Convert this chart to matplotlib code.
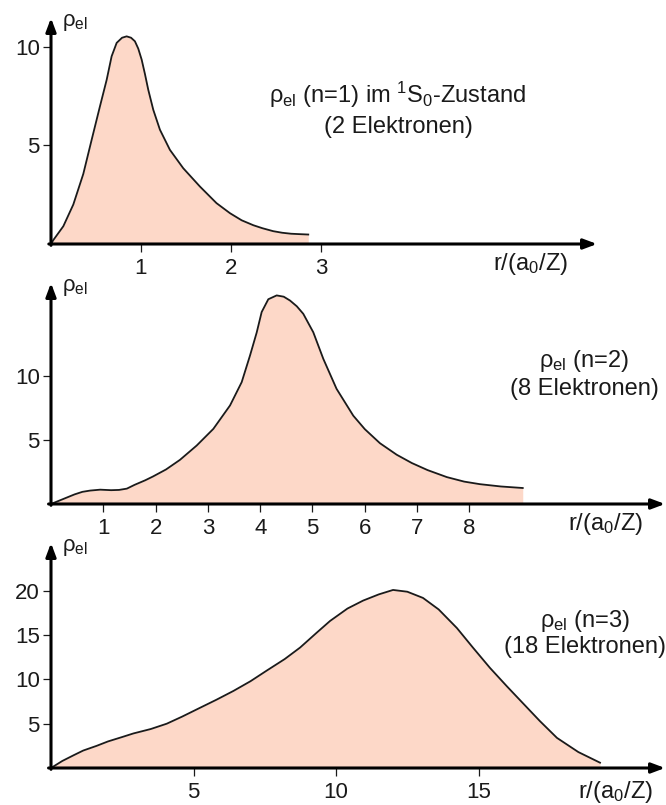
import matplotlib
matplotlib.use("Agg")
import matplotlib.pyplot as plt

plt.rcParams['font.family'] = ['Liberation Sans', 'DejaVu Sans']
plt.rcParams['mathtext.fontset'] = 'custom'
plt.rcParams['mathtext.rm'] = 'Liberation Sans'
plt.rcParams['mathtext.it'] = 'Liberation Sans:italic'

# Daten
r1 = [0, 0.026, 0.137, 0.248, 0.359, 0.452, 0.544, 0.619, 0.674, 0.73, 0.79, 0.841,
      0.89, 0.933, 0.97, 1.008, 1.045, 1.081, 1.137, 1.211, 1.322, 1.47, 1.656, 1.84,
      1.99, 2.12, 2.25, 2.35, 2.47, 2.57, 2.67, 2.76, 2.86]
rho1 = [0, 0.2, 0.9, 2.0, 3.55, 5.28, 6.97, 8.32, 9.51, 10.19, 10.45, 10.52,
        10.45, 10.27, 9.9, 9.34, 8.6, 7.82, 6.8, 5.79, 4.77, 3.84, 2.91, 2.07,
        1.56, 1.2, 0.95, 0.8, 0.65, 0.57, 0.52, 0.5, 0.48]

r2 = [0, 0.15, 0.3, 0.45, 0.6, 0.75, 0.94, 1.15, 1.3, 1.45, 1.6, 1.8, 1.95, 2.2,
      2.466, 2.786, 3.104, 3.423, 3.646, 3.805, 3.933, 4.028, 4.155, 4.315, 4.45,
      4.57, 4.7, 4.824, 5.015, 5.207, 5.46, 5.78, 6.0, 6.29, 6.61, 6.9, 7.2, 7.57,
      7.9, 8.2, 8.6, 9.02]
rho2 = [0, 0.25, 0.5, 0.75, 0.95, 1.05, 1.12, 1.08, 1.1, 1.2, 1.5, 1.85, 2.15, 2.7,
        3.45, 4.57, 5.87, 7.7, 9.52, 11.6, 13.4, 15.0, 16.0, 16.3, 16.2,
        15.9, 15.45, 14.86, 13.42, 11.34, 9.0, 6.9, 5.85, 4.75, 3.85, 3.2, 2.65, 2.1,
        1.75, 1.55, 1.37, 1.25]

r3 = [0, 0.4, 0.8, 1.13, 1.6, 2.0, 2.5, 2.89, 3.5, 4.06, 4.6, 5.23, 5.8, 6.4, 7.0,
      7.57, 8.2, 8.74, 9.33, 9.79, 10.4, 10.95, 11.5, 12.0, 12.5, 13.05, 13.6, 14.24,
      14.8, 15.4, 16.0, 16.56, 17.15, 17.75, 18.5, 19.26]
rho3 = [0, 0.8, 1.45, 1.97, 2.5, 3.0, 3.5, 3.9, 4.4, 5.0, 5.8, 6.8, 7.7, 8.7, 9.8,
        11.0, 12.3, 13.6, 15.3, 16.6, 18.0, 18.9, 19.6, 20.1, 19.9, 19.2, 17.9, 15.8,
        13.6, 11.3, 9.2, 7.3, 5.3, 3.4, 1.8, 0.6]

xticks = [[1, 2, 3], [1, 2, 3, 4, 5, 6, 7, 8], [5, 10, 15]]
yticks = [[5, 10], [5, 10], [5, 10, 15, 20]]
titles = [(r'ρ$_{\mathrm{el}}$ (n=1) im $^{1}$S$_{0}$-Zustand', '(2 Elektronen)'),
          (r'ρ$_{\mathrm{el}}$ (n=2)', '(8 Elektronen)'),
          (r'ρ$_{\mathrm{el}}$ (n=3)', '(18 Elektronen)')]

W, H = 666, 805
fig = plt.figure(figsize=(W / 100, H / 100), dpi=100)

def px(x, y):
    return x / W, 1 - y / H

# Achsen in Pixeln: links, rechts, unten, oben
boxes = [(51, 597, 244, 18), (51, 665, 504, 283), (51, 665, 768, 543)]
lims = [(6.07, 11.45), (11.74, 17.27), (21.54, 25.4)]
curves = [(r1, rho1), (r2, rho2), (r3, rho3)]
text_pos = [(398, 103, 133), (584, 367, 395), (585, 627, 653)]
xlab_pos = [(531, 270), (606, 530), (616, 798)]
fill = '#fdd8c8'

for i in range(3):
    l, r, b, t = boxes[i]
    ax = fig.add_axes([l / W, 1 - b / H, (r - l) / W, (b - t) / H])
    ax.set_xlim(0, lims[i][0])
    ax.set_ylim(0, lims[i][1])
    x, y = curves[i]
    ax.fill_between(x, y, 0, color=fill, lw=0)
    ax.plot(x, y, color='#1a1a1a', lw=1.3, solid_joinstyle='round')
    for s in ax.spines.values():
        s.set_visible(False)
    # Pfeil-Achsen
    arr = dict(arrowstyle='-|>,head_length=0.8,head_width=0.3', lw=2.2, color='k',
               mutation_scale=10, shrinkA=0, shrinkB=0)
    ax.annotate('', xy=(1, 0), xytext=(-0.004, 0), xycoords='axes fraction',
                arrowprops=arr, annotation_clip=False)
    ax.annotate('', xy=(0, 1), xytext=(0, -0.006), xycoords='axes fraction',
                arrowprops=arr, annotation_clip=False)
    ax.set_xticks(xticks[i])
    ax.set_yticks(yticks[i])
    ax.tick_params(direction='out', length=5.5, width=0.9, labelsize=16,
                   colors='#1a1a1a')
    ax.tick_params(axis='x', pad=4.5)
    ax.tick_params(axis='y', pad=2.5)
    ax.patch.set_alpha(0)

    # Beschriftungen
    tx, ty1, ty2 = text_pos[i]
    fig.text(*px(tx, ty1), titles[i][0], ha='center', va='baseline', fontsize=17,
             color='#1a1a1a')
    fig.text(*px(tx, ty2), titles[i][1], ha='center', va='baseline', fontsize=17,
             color='#1a1a1a')
    fig.text(*px(*xlab_pos[i]), r'r/(a$_0$/Z)', ha='center', va='baseline',
             fontsize=17, color='#1a1a1a')
    fig.text(*px(62, t + 8), r'ρ$_{\mathrm{el}}$', ha='left', va='baseline',
             fontsize=16, color='#1a1a1a')

fig.savefig('out.png', dpi=100)
